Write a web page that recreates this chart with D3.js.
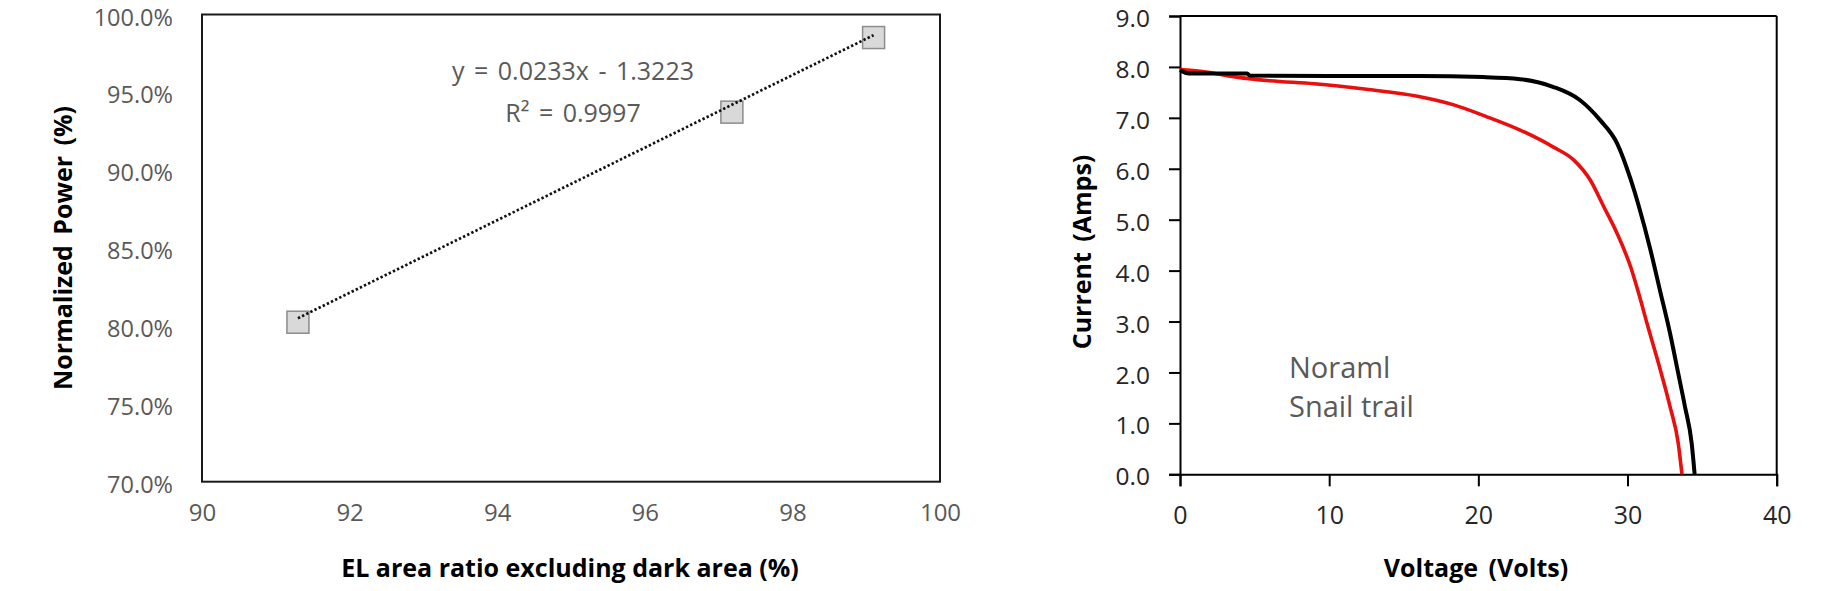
<!DOCTYPE html>
<html><head><meta charset="utf-8">
<script src="https://cdn.jsdelivr.net/npm/d3@7"></script>
<style>
html,body{margin:0;padding:0;background:#fff;}
svg{display:block;}
text{font-family:"Open Sans","Noto Sans",sans-serif;}
</style></head>
<body>
<svg id="c" width="1824" height="591"></svg>
<script>
// ---- Left chart data ----
const elRatio = [91.3, 97.18, 99.1];
const normPower = [0.8024, 0.9373, 0.9852];
const trendSlope = 0.0233, trendIntercept = -1.3223;
const trendRange = [91.3, 99.1];
const leftXTicks = [90, 92, 94, 96, 98, 100];
const leftYTicks = [0.70, 0.75, 0.80, 0.85, 0.90, 0.95, 1.00];
const eqLabel = "y = 0.0233x - 1.3223";
const r2Label = "R² = 0.9997";

// ---- Right chart data ----
const normalV = [0,0.6,4.5,4.7,10,16,20.3,22.8,25,26.8,28.15,29.3,30.2,30.8,31.5,32.2,32.85,33.4,33.85,34.3,34.5];
const normalI = [7.94,7.87,7.87,7.83,7.82,7.82,7.80,7.76,7.61,7.35,6.96,6.50,5.80,5.22,4.45,3.58,2.77,1.98,1.33,0.61,0.0];
const snailV = [0,1.5,3.8,6,9,12.5,16,18.3,20.5,22.8,25,26.4,27.5,28.4,29.3,30.2,30.8,31.3,32.2,32.85,33.4,33.65];
const snailI = [7.95,7.91,7.80,7.73,7.67,7.56,7.42,7.26,7.03,6.76,6.43,6.17,5.78,5.26,4.73,4.08,3.50,2.97,2.05,1.33,0.61,0.0];
const rightXTicks = [0, 10, 20, 30, 40];
const rightYTicks = [0,1,2,3,4,5,6,7,8,9];
const legendLabels = ["Noraml", "Snail trail"];

const svg = d3.select("#c");

// ================= LEFT =================
const lx = d3.scaleLinear().domain([90, 100]).range([202, 940]);
const ly = d3.scaleLinear().domain([0.70, 1.00]).range([481.7, 14.5]);
const L = svg.append("g");

L.append("rect").attr("x", lx(90)).attr("y", ly(1.0))
  .attr("width", lx(100) - lx(90)).attr("height", ly(0.70) - ly(1.0))
  .attr("fill", "none").attr("stroke", "#1a1a1a").attr("stroke-width", 2);

const lyAxis = L.append("g").attr("transform", `translate(${lx(90)},0)`)
  .call(d3.axisLeft(ly).tickValues(leftYTicks).tickSize(0).tickPadding(29).tickFormat(d3.format(".1%")));
lyAxis.select(".domain").remove();
lyAxis.selectAll("text").attr("font-size", 23.5).attr("fill", "#595959").attr("dy", "0.45em")
  .attr("font-family", '"Open Sans","Noto Sans",sans-serif');

const lxAxis = L.append("g").attr("transform", `translate(0,${ly(0.70)})`)
  .call(d3.axisBottom(lx).tickValues(leftXTicks).tickSize(0).tickPadding(22).tickFormat(d3.format("d")));
lxAxis.select(".domain").remove();
lxAxis.selectAll("text").attr("font-size", 24).attr("fill", "#595959")
  .attr("font-family", '"Open Sans","Noto Sans",sans-serif');

const pts = elRatio.map((x, i) => ({x, y: normPower[i]}));
const ms = 22;
L.selectAll("rect.pt").data(pts).join("rect").attr("class", "pt")
  .attr("x", d => lx(d.x) - ms / 2).attr("y", d => ly(d.y) - ms / 2)
  .attr("width", ms).attr("height", ms)
  .attr("fill", "#d9d9d9").attr("stroke", "#8c8c8c").attr("stroke-width", 1.5);

L.append("line")
  .attr("x1", lx(trendRange[0])).attr("y1", ly(trendSlope * trendRange[0] + trendIntercept))
  .attr("x2", lx(trendRange[1])).attr("y2", ly(trendSlope * trendRange[1] + trendIntercept))
  .attr("stroke", "#111").attr("stroke-width", 2.7).attr("stroke-dasharray", "2.4 2.2");

L.append("text").attr("x", 573).attr("y", 80).attr("text-anchor", "middle")
  .attr("font-size", 25).attr("fill", "#595959").attr("word-spacing", 3).text(eqLabel);
L.append("text").attr("x", 573).attr("y", 122).attr("text-anchor", "middle")
  .attr("font-size", 25).attr("fill", "#595959").attr("word-spacing", 3).text(r2Label);

L.append("text").attr("transform", `translate(72,248) rotate(-90)`).attr("text-anchor", "middle")
  .attr("font-size", 25).attr("font-weight", "bold").attr("fill", "#000").attr("word-spacing", 4)
  .text("Normalized Power (%)");
L.append("text").attr("x", 570).attr("y", 577).attr("text-anchor", "middle")
  .attr("font-size", 25).attr("font-weight", "bold").attr("fill", "#000")
  .text("EL area ratio excluding dark area (%)");

// ================= RIGHT =================
const rx = d3.scaleLinear().domain([0, 40]).range([1180, 1776.7]);
const ry = d3.scaleLinear().domain([0, 9]).range([474.3, 16]);
const R = svg.append("g");

R.append("line").attr("x1", rx(0)).attr("x2", rx(40)).attr("y1", ry(9)).attr("y2", ry(9))
  .attr("stroke", "#000").attr("stroke-width", 2);
R.append("line").attr("x1", rx(40)).attr("x2", rx(40)).attr("y1", ry(9)).attr("y2", ry(0))
  .attr("stroke", "#000").attr("stroke-width", 2);

const ryAxis = R.append("g").attr("transform", `translate(${rx(0)},0)`)
  .call(d3.axisLeft(ry).tickValues(rightYTicks).tickSize(11).tickPadding(19).tickFormat(d3.format(".1f")));
ryAxis.selectAll("path,line").attr("stroke", "#000").attr("stroke-width", 2);
ryAxis.selectAll("text").attr("font-size", 24.5).attr("fill", "#262626").attr("dy", "0.43em")
  .attr("font-family", '"Open Sans","Noto Sans",sans-serif');

const rxAxis = R.append("g").attr("transform", `translate(0,${ry(0)})`)
  .call(d3.axisBottom(rx).tickValues(rightXTicks).tickSize(12).tickPadding(20).tickFormat(d3.format("d")));
rxAxis.selectAll("path,line").attr("stroke", "#000").attr("stroke-width", 2);
rxAxis.selectAll("text").attr("font-size", 25).attr("fill", "#262626")
  .attr("font-family", '"Open Sans","Noto Sans",sans-serif');

const lineGen = d3.line().x(d => rx(d[0])).y(d => ry(d[1])).curve(d3.curveMonotoneX);
const snail = snailV.map((v, i) => [v, snailI[i]]);
const normal = normalV.map((v, i) => [v, normalI[i]]);
R.append("path").attr("d", lineGen(snail)).attr("fill", "none")
  .attr("stroke", "#e8100e").attr("stroke-width", 3.6);
R.append("path").attr("d", lineGen(normal)).attr("fill", "none")
  .attr("stroke", "#000").attr("stroke-width", 4);

R.selectAll("text.leg").data(legendLabels).join("text").attr("class", "leg")
  .attr("x", 1289).attr("y", (d, i) => 378 + i * 39)
  .attr("font-size", 29).attr("fill", "#595959").text(d => d);

R.append("text").attr("transform", `translate(1091,252) rotate(-90)`).attr("text-anchor", "middle")
  .attr("font-size", 25).attr("font-weight", "bold").attr("fill", "#000").attr("word-spacing", 4)
  .text("Current (Amps)");
R.append("text").attr("x", 1476).attr("y", 577).attr("text-anchor", "middle")
  .attr("font-size", 25).attr("font-weight", "bold").attr("fill", "#000").attr("word-spacing", 4)
  .text("Voltage (Volts)");
</script>
</body></html>
